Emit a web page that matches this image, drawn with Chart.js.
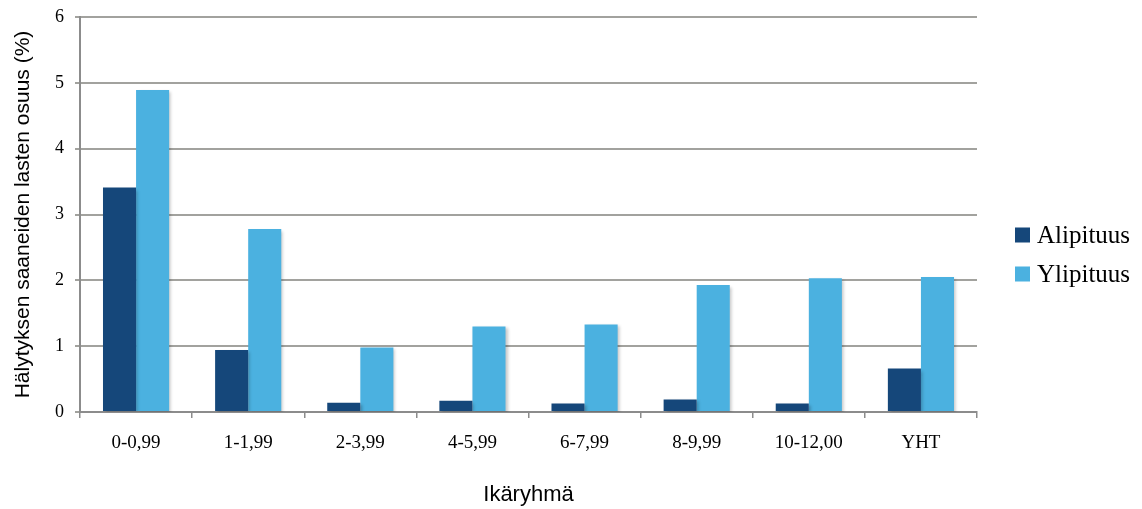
<!DOCTYPE html>
<html>
<head>
<meta charset="utf-8">
<script src="https://cdn.jsdelivr.net/npm/chart.js@4/dist/chart.umd.min.js"></script>
<style>
  html, body { margin: 0; padding: 0; background: #ffffff; }
  #wrap { width: 1142px; height: 509px; position: relative; }
</style>
</head>
<body>
<div id="wrap"><canvas id="c" width="1142" height="509"></canvas></div>
<script>
// Age groups and share of children with an alert (%)
const ageGroups = ['0-0,99', '1-1,99', '2-3,99', '4-5,99', '6-7,99', '8-9,99', '10-12,00', 'YHT'];
const alipituus = [3.41, 0.94, 0.14, 0.17, 0.13, 0.19, 0.13, 0.66];
const ylipituus = [4.89, 2.78, 0.98, 1.30, 1.33, 1.93, 2.03, 2.05];
const yTicks = [0, 1, 2, 3, 4, 5, 6];

const seriesNames = ['Alipituus', 'Ylipituus'];
const seriesColors = ['#15477a', '#4bb1e0'];

const serif = "'Liberation Serif', 'DejaVu Serif', serif";
const sans = "'Liberation Sans', 'DejaVu Sans', sans-serif";

// Soft drop shadow under the bars
const barShadow = {
  id: 'barShadow',
  beforeDatasetsDraw(chart) {
    const ctx = chart.ctx;
    ctx.save();
    ctx.shadowColor = 'rgba(0,0,0,0.22)';
    ctx.shadowBlur = 3;
    ctx.shadowOffsetX = 2;
    ctx.shadowOffsetY = 2;
  },
  afterDatasetsDraw(chart) {
    chart.ctx.restore();
  }
};

// Legend at the right side, vertically centred
const sideLegend = {
  id: 'sideLegend',
  afterDraw(chart) {
    const ctx = chart.ctx;
    const area = chart.chartArea;
    const boxX = area.right + 38;
    const textX = boxX + 22;
    const mid = chart.height / 2;
    const rows = [mid - 19.5, mid + 19.5];
    ctx.save();
    ctx.font = '25px ' + serif;
    ctx.textBaseline = 'middle';
    ctx.textAlign = 'left';
    chart.data.datasets.forEach((ds, i) => {
      const y = rows[i];
      ctx.fillStyle = ds.backgroundColor;
      ctx.fillRect(boxX, y - 7.5, 15, 15);
      ctx.fillStyle = '#000000';
      ctx.fillText(ds.label, textX, y + 1);
    });
    ctx.restore();
  }
};

new Chart(document.getElementById('c'), {
  type: 'bar',
  data: {
    labels: ageGroups,
    datasets: [
      { label: seriesNames[0], data: alipituus, backgroundColor: seriesColors[0] },
      { label: seriesNames[1], data: ylipituus, backgroundColor: seriesColors[1] }
    ]
  },
  options: {
    responsive: false,
    animation: false,
    devicePixelRatio: 1,
    layout: { padding: { top: 17, right: 165, bottom: 0, left: 0 } },
    datasets: {
      bar: { categoryPercentage: 0.59, barPercentage: 1.0, borderWidth: 0 }
    },
    plugins: {
      legend: { display: false },
      tooltip: { enabled: false }
    },
    scales: {
      x: {
        offset: true,
        grid: {
          display: true,
          drawOnChartArea: false,
          drawTicks: true,
          tickLength: 6,
          color: '#8c8c8c',
          lineWidth: 1.5
        },
        border: { display: true, color: '#8c8c8c', width: 2 },
        ticks: {
          color: '#000000',
          font: { family: serif, size: 19 },
          padding: 14,
          maxRotation: 0,
          autoSkip: false
        },
        title: {
          display: true,
          text: 'Ikäryhmä',
          color: '#000000',
          font: { family: sans, size: 22 },
          padding: { top: 0, bottom: 1 }
        },
        afterFit(scale) { scale.height = 97; }
      },
      y: {
        min: 0,
        max: 6,
        afterBuildTicks(scale) {
          scale.ticks = yTicks.map(v => ({ value: v }));
        },
        grid: {
          color: '#a2a29e',
          lineWidth: 2,
          drawTicks: true,
          tickLength: 5
        },
        border: { display: true, color: '#8c8c8c', width: 2 },
        ticks: {
          color: '#000000',
          font: { family: serif, size: 18 },
          padding: 11
        },
        title: {
          display: true,
          text: 'Hälytyksen saaneiden lasten osuus (%)',
          color: '#000000',
          font: { family: sans, size: 21 },
          padding: { top: 11, bottom: 0 }
        },
        afterFit(scale) {
          scale.width = 80;
          scale.paddingTop = 0;
          scale.paddingBottom = 0;
        }
      }
    }
  },
  plugins: [barShadow, sideLegend]
});
</script>
</body>
</html>
